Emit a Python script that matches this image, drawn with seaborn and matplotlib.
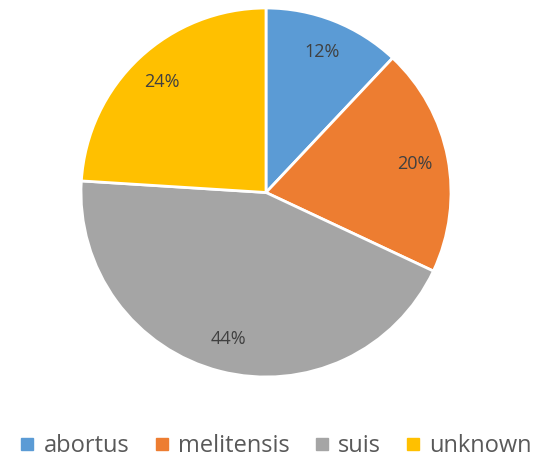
import matplotlib
matplotlib.use("Agg")
import matplotlib.pyplot as plt
import seaborn as sns
from matplotlib.lines import Line2D

# Data
species = ["abortus", "melitensis", "suis", "unknown"]
shares = [12, 20, 44, 24]
colors = ["#5B9BD5", "#ED7D31", "#A5A5A5", "#FFC000"]

sns.set_theme(style="white")
plt.rcParams["font.family"] = ["Open Sans", "DejaVu Sans"]
palette = sns.color_palette(colors)

fig = plt.figure(figsize=(5.34, 4.62), dpi=100)
ax = fig.add_axes([81 / 534, 1 - 377 / 462, 370 / 534, 369 / 462])

wedges, texts, autotexts = ax.pie(
    shares,
    colors=palette,
    startangle=90,
    counterclock=False,
    autopct="%d%%",
    pctdistance=0.82,
    wedgeprops={"edgecolor": "white", "linewidth": 2},
    textprops={"color": "#404040", "fontsize": 13},
)
ax.set_aspect("auto")
ax.set_xlim(-1.0, 1.0)
ax.set_ylim(-1.0, 1.0)

handles = [Line2D([0], [0], marker="s", linestyle="", markersize=8,
                  markerfacecolor=c, markeredgecolor=c) for c in palette]
fig.legend(handles, species, loc="center", bbox_to_anchor=(0.515, 1 - 446 / 462),
           ncol=4, frameon=False, fontsize=17, labelcolor="#595959",
           handletextpad=0.3, columnspacing=0.95, handlelength=0.8)

fig.savefig("out.png", dpi=100)
